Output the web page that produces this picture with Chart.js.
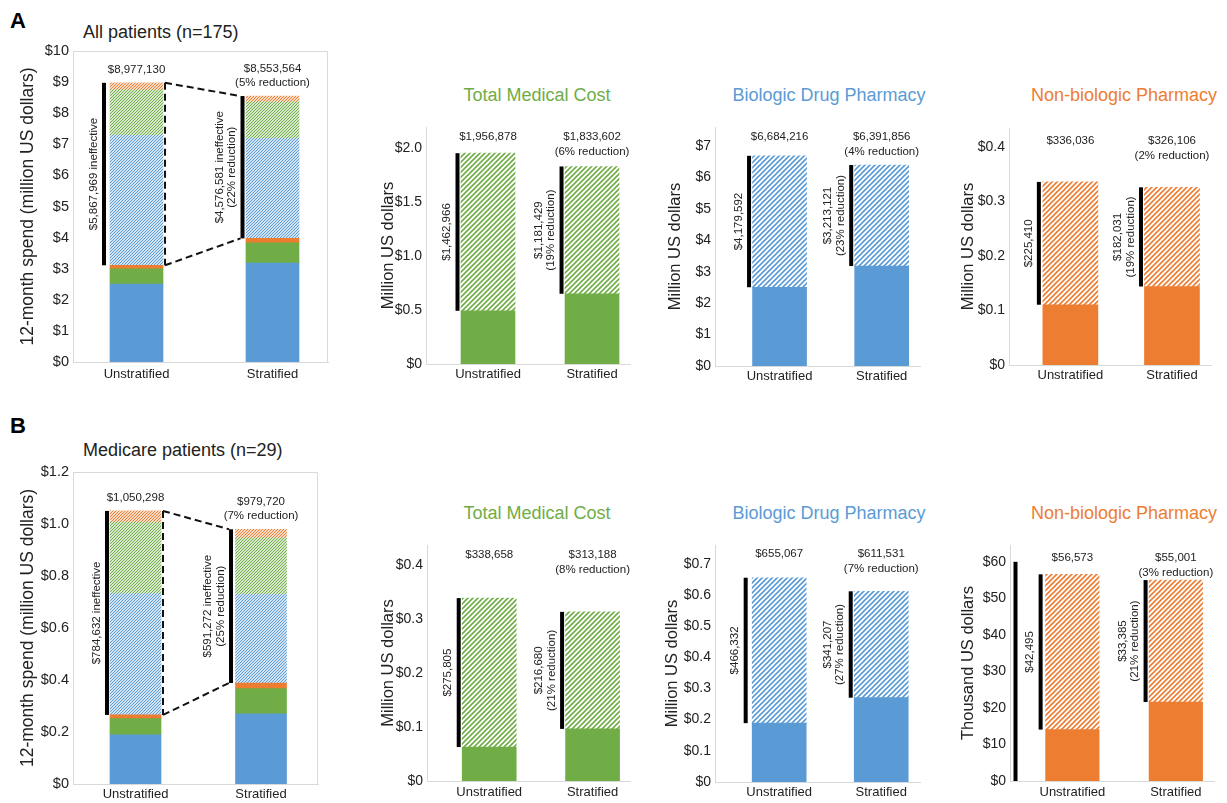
<!DOCTYPE html>
<html><head><meta charset="utf-8">
<script src="https://cdn.jsdelivr.net/npm/chart.js@4"></script>
<style>
html,body{margin:0;padding:0;background:#fff;}
body{width:1227px;height:803px;position:relative;overflow:hidden;font-family:'Liberation Sans',Arial,sans-serif;color:#222;}
canvas{position:absolute;}
.t{position:absolute;white-space:nowrap;line-height:1;transform:translateY(-50%);}
.c{transform:translate(-50%,-50%);}
</style></head><body>
<div class="t" style="left:10px;top:21px;font-size:22px;font-weight:bold;color:#000">A</div>
<div class="t" style="left:83px;top:32px;font-size:18px;">All patients (n=175)</div>
<div class="t c" style="left:537px;top:95px;font-size:18px;color:#70AD47">Total Medical Cost</div>
<div class="t c" style="left:829px;top:95px;font-size:18px;color:#5B9BD5">Biologic Drug Pharmacy</div>
<div class="t c" style="left:1124px;top:95px;font-size:18px;color:#ED7D31">Non-biologic Pharmacy</div>
<div class="t" style="left:10px;top:426px;font-size:22px;font-weight:bold;color:#000">B</div>
<div class="t" style="left:83px;top:450px;font-size:18px;">Medicare patients (n=29)</div>
<div class="t c" style="left:537px;top:513px;font-size:18px;color:#70AD47">Total Medical Cost</div>
<div class="t c" style="left:829px;top:513px;font-size:18px;color:#5B9BD5">Biologic Drug Pharmacy</div>
<div class="t c" style="left:1124px;top:513px;font-size:18px;color:#ED7D31">Non-biologic Pharmacy</div>
<script>
// ---------- DATA ----------
const categories = ['Unstratified', 'Stratified'];

// All patients (n=175), 12-month spend in US dollars
const allBiologicEffective   = [2504624, 3178735];
const allMedicalEffective    = [493912, 652173];
const allNonbioEffective     = [110626, 144075];
const allBiologicIneffective = [4179592, 3213121];
const allMedicalIneffective  = [1462966, 1181429];
const allNonbioIneffective   = [225410, 182031];

// Medicare patients (n=29), 12-month spend in US dollars
const medBiologicEffective   = [188735, 270324];
const medMedicalEffective    = [62853, 96508];
const medNonbioEffective     = [14078, 21616];
const medBiologicIneffective = [466332, 341207];
const medMedicalIneffective  = [275805, 216680];
const medNonbioIneffective   = [42495, 33385];

// Annotation texts
const allTotalLabels      = [['$8,977,130'], ['$8,553,564', '(5% reduction)']];
const allIneffLabels      = [['$5,867,969 ineffective'], ['$4,576,581 ineffective', '(22% reduction)']];
const allMedicalLabels    = [['$1,956,878'], ['$1,833,602', '(6% reduction)']];
const allMedicalIneffText = [['$1,462,966'], ['$1,181,429', '(19% reduction)']];
const allBiologicLabels   = [['$6,684,216'], ['$6,391,856', '(4% reduction)']];
const allBiologicIneffText= [['$4,179,592'], ['$3,213,121', '(23% reduction)']];
const allNonbioLabels     = [['$336,036'], ['$326,106', '(2% reduction)']];
const allNonbioIneffText  = [['$225,410'], ['$182,031', '(19% reduction)']];

const medTotalLabels      = [['$1,050,298'], ['$979,720', '(7% reduction)']];
const medIneffLabels      = [['$784,632 ineffective'], ['$591,272 ineffective', '(25% reduction)']];
const medMedicalLabels    = [['$338,658'], ['$313,188', '(8% reduction)']];
const medMedicalIneffText = [['$275,805'], ['$216,680', '(21% reduction)']];
const medBiologicLabels   = [['$655,067'], ['$611,531', '(7% reduction)']];
const medBiologicIneffText= [['$466,332'], ['$341,207', '(27% reduction)']];
const medNonbioLabels     = [['$56,573'], ['$55,001', '(3% reduction)']];
const medNonbioIneffText  = [['$42,495'], ['$33,385', '(21% reduction)']];

// Tick values and labels
const ticksAllTotal    = [0,1,2,3,4,5,6,7,8,9,10];
const tickLblAllTotal  = ['$0','$1','$2','$3','$4','$5','$6','$7','$8','$9','$10'];
const ticksAllMedical  = [0,0.5,1,1.5,2];
const tickLblAllMedical= ['$0','$0.5','$1.0','$1.5','$2.0'];
const ticksAllBio      = [0,1,2,3,4,5,6,7];
const tickLblAllBio    = ['$0','$1','$2','$3','$4','$5','$6','$7'];
const ticksAllNonbio   = [0,0.1,0.2,0.3,0.4];
const tickLblAllNonbio = ['$0','$0.1','$0.2','$0.3','$0.4'];
const ticksMedTotal    = [0,0.2,0.4,0.6,0.8,1.0,1.2];
const tickLblMedTotal  = ['$0','$0.2','$0.4','$0.6','$0.8','$1.0','$1.2'];
const ticksMedMedical  = [0,0.1,0.2,0.3,0.4];
const tickLblMedMedical= ['$0','$0.1','$0.2','$0.3','$0.4'];
const ticksMedBio      = [0,0.1,0.2,0.3,0.4,0.5,0.6,0.7];
const tickLblMedBio    = ['$0','$0.1','$0.2','$0.3','$0.4','$0.5','$0.6','$0.7'];
const ticksMedNonbio   = [0,10,20,30,40,50,60];
const tickLblMedNonbio = ['$0','$10','$20','$30','$40','$50','$60'];

// ---------- STYLE / LAYOUT ----------
const FONT = "'Liberation Sans', Arial, Helvetica, sans-serif";
const BLUE = '#5B9BD5', GREEN = '#70AD47', ORANGE = '#ED7D31';
Chart.defaults.font.family = FONT;
Chart.defaults.color = '#222';

function stackSeries(bioE, medE, nbE, bioI, medI, nbI) {
  return [
    {label: 'Biologic effective', data: bioE, color: BLUE, hatch: false},
    {label: 'Medical effective', data: medE, color: GREEN, hatch: false},
    {label: 'Non-biologic effective', data: nbE, color: ORANGE, hatch: false},
    {label: 'Biologic ineffective', data: bioI, color: BLUE, hatch: true},
    {label: 'Medical ineffective', data: medI, color: GREEN, hatch: true},
    {label: 'Non-biologic ineffective', data: nbI, color: ORANGE, hatch: true}
  ];
}
function pairSeries(eff, ineff, color) {
  return [
    {label: 'Effective', data: eff, color: color, hatch: false},
    {label: 'Ineffective', data: ineff, color: color, hatch: true}
  ];
}

const panels = [
  { r:{areaL:73, areaR:328, areaT:51, areaB:362, titleX:28, padTop:14, padRight:22, xH:26, xPad:5},
    yTitle:'12-month spend (million US dollars)', yTitleSize:17.5, tickSize:14.5,
    unit:1e6, yMax:10, ticks:ticksAllTotal, tickLabels:tickLblAllTotal,
    xMin:-0.467, xMax:1.408, barW:53, hatchSize:3, hatchW:1.1,
    series: stackSeries(allBiologicEffective, allMedicalEffective, allNonbioEffective, allBiologicIneffective, allMedicalIneffective, allNonbioIneffective),
    notes:{frame:true, topMode:'bar', topLabels:allTotalLabels, sideLabels:allIneffLabels, sideGap:[6,3.5], connector:true} },
  { r:{areaL:426, areaR:630, areaT:127, areaB:364, titleX:388, padTop:14, padRight:22, xH:26, xPad:3},
    yTitle:'Million US dollars', yTitleSize:16.5, tickSize:14,
    unit:1e6, yMax:2.2, ticks:ticksAllMedical, tickLabels:tickLblAllMedical,
    xMin:-0.596, xMax:1.365, barW:54, hatchSize:5, hatchW:1.6,
    series: pairSeries(allMedicalEffective, allMedicalIneffective, GREEN),
    notes:{topMode:'area', topOffset:10, topLabels:allMedicalLabels, sideLabels:allMedicalIneffText, sideGap:[3.5,3.5]} },
  { r:{areaL:715, areaR:920, areaT:127, areaB:366, titleX:675, padTop:14, padRight:22, xH:24, xPad:3},
    yTitle:'Million US dollars', yTitleSize:16.5, tickSize:14,
    unit:1e6, yMax:7.6, ticks:ticksAllBio, tickLabels:tickLblAllBio,
    xMin:-0.632, xMax:1.375, barW:54, hatchSize:5, hatchW:1.6,
    series: pairSeries(allBiologicEffective, allBiologicIneffective, BLUE),
    notes:{topMode:'area', topOffset:10, topLabels:allBiologicLabels, sideLabels:allBiologicIneffText, sideGap:[3.5,3.5]} },
  { r:{areaL:1009, areaR:1211, areaT:128, areaB:365, titleX:968, padTop:14, padRight:15, xH:25, xPad:3},
    yTitle:'Million US dollars', yTitleSize:16.5, tickSize:14,
    unit:1e6, yMax:0.435, ticks:ticksAllNonbio, tickLabels:tickLblAllNonbio,
    xMin:-0.604, xMax:1.384, barW:55, hatchSize:5, hatchW:1.6,
    series: pairSeries(allNonbioEffective, allNonbioIneffective, ORANGE),
    notes:{topMode:'area', topOffset:13, topLabels:allNonbioLabels, sideLabels:allNonbioIneffText, sideGap:[4,3.5]} },
  { r:{areaL:73, areaR:318, areaT:472, areaB:784, titleX:28, padTop:14, padRight:22, xH:19, xPad:3},
    yTitle:'12-month spend (million US dollars)', yTitleSize:17.5, tickSize:14.5,
    unit:1e6, yMax:1.2, ticks:ticksMedTotal, tickLabels:tickLblMedTotal,
    xMin:-0.498, xMax:1.454, barW:51, hatchSize:3, hatchW:1.1,
    series: stackSeries(medBiologicEffective, medMedicalEffective, medNonbioEffective, medBiologicIneffective, medMedicalIneffective, medNonbioIneffective),
    notes:{frame:true, topMode:'bar', topLabels:medTotalLabels, sideLabels:medIneffLabels, sideGap:[3,4.5], connector:true} },
  { r:{areaL:427, areaR:630, areaT:545, areaB:781, titleX:388, padTop:14, padRight:22, xH:22, xPad:4},
    yTitle:'Million US dollars', yTitleSize:16.5, tickSize:14,
    unit:1e6, yMax:0.437, ticks:ticksMedMedical, tickLabels:tickLblMedMedical,
    xMin:-0.602, xMax:1.362, barW:54, hatchSize:5, hatchW:1.6,
    series: pairSeries(medMedicalEffective, medMedicalIneffective, GREEN),
    notes:{topMode:'area', topOffset:10, topLabels:medMedicalLabels, sideLabels:medMedicalIneffText, sideGap:[3.5,3.5]} },
  { r:{areaL:715, areaR:920, areaT:545, areaB:782, titleX:672, padTop:14, padRight:22, xH:21, xPad:3},
    yTitle:'Million US dollars', yTitleSize:16.5, tickSize:14,
    unit:1e6, yMax:0.76, ticks:ticksMedBio, tickLabels:tickLblMedBio,
    xMin:-0.629, xMax:1.38, barW:54, hatchSize:5, hatchW:1.6,
    series: pairSeries(medBiologicEffective, medBiologicIneffective, BLUE),
    notes:{topMode:'area', topOffset:9, topLabels:medBiologicLabels, sideLabels:medBiologicIneffText, sideGap:[6.5,3.5]} },
  { r:{areaL:1010, areaR:1214, areaT:545, areaB:781, titleX:968, padTop:14, padRight:12, xH:22, xPad:4},
    yTitle:'Thousand US dollars', yTitleSize:16.5, tickSize:14,
    unit:1e3, yMax:64.6, ticks:ticksMedNonbio, tickLabels:tickLblMedNonbio,
    xMin:-0.603, xMax:1.369, barW:53.5, hatchSize:5, hatchW:1.6,
    series: pairSeries(medNonbioEffective, medNonbioIneffective, ORANGE),
    notes:{topMode:'area', topOffset:13, topLabels:medNonbioLabels, sideLabels:medNonbioIneffText, sideGap:[5,3.5], extraLine:{from:0, to:60, dx:5.5}} }
];

function makeHatch(ctx, color, size, lw) {
  const c = document.createElement('canvas');
  c.width = size; c.height = size;
  const g = c.getContext('2d');
  g.fillStyle = '#fff'; g.fillRect(0, 0, size, size);
  g.strokeStyle = color; g.lineWidth = lw;
  g.beginPath();
  g.moveTo(-1, size + 1); g.lineTo(size + 1, -1);
  g.moveTo(-1, 1); g.lineTo(1, -1);
  g.moveTo(size - 1, size + 1); g.lineTo(size + 1, size - 1);
  g.stroke();
  return ctx.createPattern(c, 'repeat');
}

const costNotes = {
  id: 'costNotes',
  afterDatasetsDraw(chart, args, o) {
    const {ctx, chartArea: a} = chart;
    const ys = chart.scales.y;
    const ds = chart.data.datasets;
    const Y = v => ys.getPixelForValue(v);
    ctx.save();
    if (o.frame) {
      ctx.strokeStyle = '#d9d9d9'; ctx.lineWidth = 1;
      ctx.beginPath();
      ctx.moveTo(Math.round(a.left) + 0.5, Math.round(a.bottom));
      ctx.lineTo(Math.round(a.left) + 0.5, Math.round(a.top) + 0.5);
      ctx.lineTo(Math.round(a.right) - 0.5, Math.round(a.top) + 0.5);
      ctx.lineTo(Math.round(a.right) - 0.5, Math.round(a.bottom));
      ctx.stroke();
    }
    const n = ds[0].data.length;
    const info = [];
    for (let i = 0; i < n; i++) {
      let lower = 0, upper = 0;
      ds.forEach(d => { const v = d.data[i].y; upper += v; if (!d.hatched) lower += v; });
      const el = chart.getDatasetMeta(0).data[i];
      const left = el.x - el.width / 2, right = el.x + el.width / 2;
      info.push({lower, upper, left, right, cx: el.x, lineX: left - o.sideGap[i]});
    }
    ctx.font = '11.5px ' + FONT;
    ctx.textAlign = 'center'; ctx.textBaseline = 'middle';
    info.forEach((b, i) => {
      const yt = Y(b.upper), yb = Y(b.lower);
      ctx.fillStyle = '#000';
      ctx.fillRect(b.lineX - 2, yt, 4, yb - yt);
      ctx.fillStyle = '#222';
      const lines = o.sideLabels[i];
      const mid = (yt + yb) / 2;
      lines.forEach((t, k) => {
        const tx = b.lineX - 10.5 - (lines.length - 1 - k) * 12.5;
        ctx.save(); ctx.translate(tx, mid); ctx.rotate(-Math.PI / 2); ctx.fillText(t, 0, 0); ctx.restore();
      });
      const tl = o.topLabels[i];
      tl.forEach((t, k) => {
        const ty = o.topMode === 'bar' ? yt - 13 - (tl.length - 1 - k) * 14.5 : a.top + o.topOffset + k * 15;
        ctx.fillText(t, b.cx, ty);
      });
    });
    if (o.connector) {
      const b0 = info[0], b1 = info[1];
      const vx = b0.right + 2;
      ctx.strokeStyle = '#111'; ctx.lineWidth = 2; ctx.setLineDash([7, 4]);
      ctx.beginPath();
      ctx.moveTo(vx, Y(b0.upper)); ctx.lineTo(vx, Y(b0.lower));
      ctx.moveTo(vx, Y(b0.upper)); ctx.lineTo(b1.lineX - 2, Y(b1.upper));
      ctx.moveTo(vx, Y(b0.lower)); ctx.lineTo(b1.lineX - 2, Y(b1.lower));
      ctx.stroke();
      ctx.setLineDash([]);
    }
    if (o.extraLine) {
      const e = o.extraLine;
      ctx.fillStyle = '#000';
      const y1 = Y(e.to), y0 = Y(e.from);
      ctx.fillRect(a.left + e.dx - 2, y1, 4, y0 - y1);
    }
    ctx.restore();
  }
};

panels.forEach(p => {
  const r = p.r;
  const cl = Math.round(r.titleX - p.yTitleSize / 2);
  const ct = r.areaT - r.padTop;
  const yW = r.areaL - cl;
  const cw = r.areaR + r.padRight - cl;
  const ch = r.areaB + r.xH - ct;
  const cv = document.createElement('canvas');
  cv.width = cw; cv.height = ch;
  cv.style.left = cl + 'px'; cv.style.top = ct + 'px';
  cv.style.width = cw + 'px'; cv.style.height = ch + 'px';
  document.body.appendChild(cv);
  const ctx = cv.getContext('2d');
  const datasets = p.series.map(s => ({
    label: s.label,
    data: s.data.map((v, i) => ({x: i, y: v / p.unit})),
    backgroundColor: s.hatch ? makeHatch(ctx, s.color, p.hatchSize, p.hatchW) : s.color,
    hatched: s.hatch,
    borderWidth: 0,
    barThickness: p.barW
  }));
  new Chart(ctx, {
    type: 'bar',
    data: {datasets},
    plugins: [costNotes],
    options: {
      responsive: false, animation: false, events: [],
      devicePixelRatio: 1,
      layout: {padding: {top: r.padTop, right: r.padRight, left: 0, bottom: 0}},
      plugins: {legend: {display: false}, tooltip: {enabled: false}, costNotes: p.notes},
      scales: {
        x: {
          type: 'linear', min: p.xMin, max: p.xMax, offset: false, bounds: 'data', stacked: true,
          grid: {display: false, drawTicks: false, offset: false}, border: {display: true, color: '#d9d9d9', width: 1},
          afterBuildTicks: s => { s.ticks = categories.map((c, i) => ({value: i})); },
          afterFit: s => { s.height = r.xH; },
          ticks: {autoSkip: false, maxRotation: 0, minRotation: 0, padding: r.xPad, color: '#222',
                  font: {size: 13}, callback: v => categories[v]}
        },
        y: {
          type: 'linear', min: 0, max: p.yMax, bounds: 'data', stacked: true,
          grid: {display: false, drawTicks: false}, border: {display: true, color: '#d9d9d9', width: 1},
          afterBuildTicks: s => { s.ticks = p.ticks.map(v => ({value: v})); },
          afterFit: s => { s.width = yW; },
          ticks: {autoSkip: false, padding: 4, color: '#222', font: {size: p.tickSize},
                  callback: (v, i) => p.tickLabels[i]},
          title: {display: true, text: p.yTitle, color: '#222', padding: 0,
                  font: {size: p.yTitleSize, lineHeight: 1}}
        }
      }
    }
  });
});
</script>
</body></html>
